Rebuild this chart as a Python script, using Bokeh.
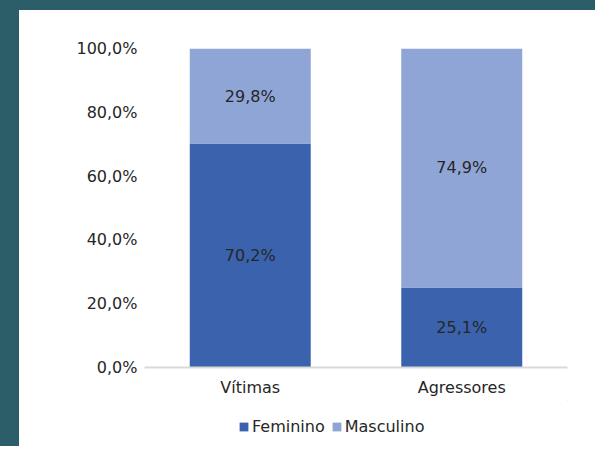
from bokeh.plotting import figure
from bokeh.models import ColumnDataSource, Legend, LegendItem, FixedTicker, Range1d, FactorRange
from bokeh.layouts import column
from bokeh.core.properties import value
from bokeh.embed import file_html
from bokeh.resources import INLINE

categories = ["Vítimas", "Agressores"]
feminino = [70.2, 25.1]
masculino = [29.8, 74.9]
series_names = ["Feminino", "Masculino"]
y_ticks = [0, 20, 40, 60, 80, 100]
y_tick_labels = ["0,0%", "20,0%", "40,0%", "60,0%", "80,0%", "100,0%"]

C_FEM = "#3a62ad"
C_MASC = "#8fa5d6"
C_BG = "#2c5e69"
FONT = "DejaVu Sans"
TXT = "#262626"

def fmt(v):
    return f"{v:.1f}".replace(".", ",") + "%"

source = ColumnDataSource(dict(cat=categories, fem=feminino, masc=masculino))

p = figure(x_range=FactorRange(*categories, range_padding=0), y_range=Range1d(0, 100),
           width=576, height=390, output_backend="svg", toolbar_location=None,
           min_border_left=125, min_border_right=28, min_border_top=38, min_border_bottom=33)
p.styles = {"background-color": "white"}
p.background_fill_color = "white"
p.border_fill_color = "white"
p.outline_line_color = None
p.xgrid.visible = False
p.ygrid.visible = False

rs = p.vbar_stack(["fem", "masc"], x="cat", width=0.572, color=[C_FEM, C_MASC],
                  line_color=None, source=source)

# data labels at segment midpoints
lab_x, lab_y, lab_t = [], [], []
for c, f, m in zip(categories, feminino, masculino):
    lab_x += [c, c]
    lab_y += [f / 2, f + m / 2]
    lab_t += [fmt(f), fmt(m)]
p.text(x=lab_x, y=lab_y, text=lab_t, text_align="center", text_baseline="middle",
       text_font=value(FONT), text_font_size="16px", text_color=TXT)

# y axis
p.yaxis.ticker = FixedTicker(ticks=y_ticks)
p.yaxis.major_label_overrides = {t: l for t, l in zip(y_ticks, y_tick_labels)}
p.yaxis.axis_line_color = None
p.yaxis.major_tick_line_color = None
p.yaxis.minor_tick_line_color = None
p.yaxis.major_tick_out = 0
p.yaxis.major_label_standoff = 7
p.yaxis.major_label_text_font = FONT
p.yaxis.major_label_text_font_size = "16px"
p.yaxis.major_label_text_color = TXT

# x axis
p.xaxis.axis_line_color = "#d9d9d9"
p.xaxis.axis_line_width = 2
p.xaxis.major_tick_line_color = None
p.xaxis.major_tick_out = 0
p.xaxis.major_label_standoff = 10
p.xaxis.major_label_text_font = FONT
p.xaxis.major_label_text_font_size = "16px"
p.xaxis.major_label_text_color = TXT

# legend in its own strip below the chart
q = figure(width=576, height=46, output_backend="svg", toolbar_location=None,
           x_axis_type=None, y_axis_type=None, min_border=0,
           x_range=Range1d(0, 1), y_range=Range1d(0, 1))
q.styles = {"background-color": "white"}
q.background_fill_color = "white"
q.border_fill_color = "white"
q.outline_line_color = None
q.xgrid.visible = False
q.ygrid.visible = False
# off-view swatch renderers (only their legend glyphs are seen)
dummy = [q.vbar(x=[5], bottom=[5], top=[6], width=0.1, color=c, line_color=None)
         for c in (C_FEM, C_MASC)]

legend = Legend(items=[LegendItem(label=series_names[i], renderers=[dummy[i]]) for i in range(2)],
                orientation="horizontal", location=(94, 10),
                glyph_width=11, glyph_height=11, label_standoff=3, spacing=6,
                padding=0, margin=0, border_line_color=None, background_fill_alpha=0,
                label_text_font=FONT, label_text_font_size="16px", label_text_color=TXT)
q.add_layout(legend)

inner = column(p, q, spacing=0, styles={"background-color": "white"})
layout = column(inner, styles={"background-color": C_BG, "padding-left": "19px", "padding-top": "10px"})

open("out.html", "w").write(file_html(layout, INLINE))
